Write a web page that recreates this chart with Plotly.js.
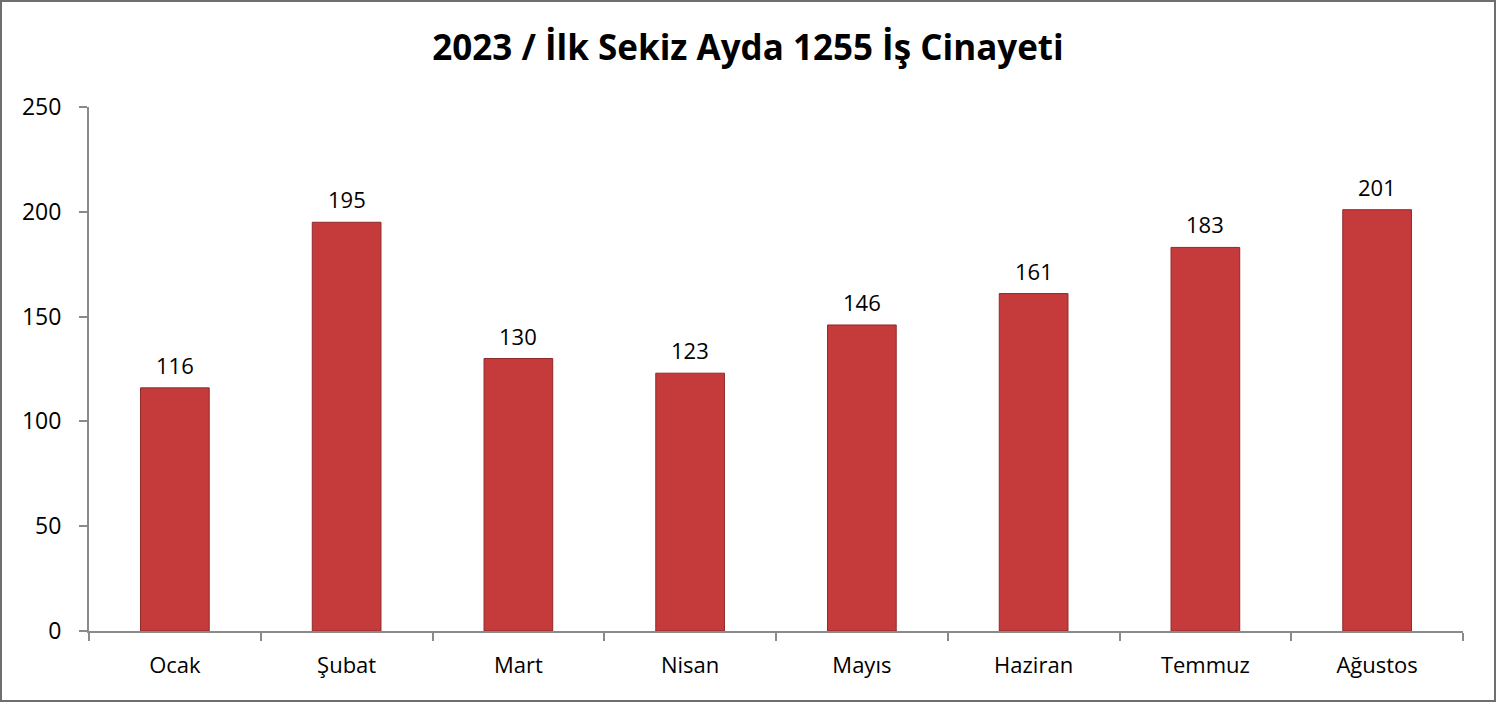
<!DOCTYPE html>
<html>
<head>
<meta charset="utf-8">
<script src="https://cdn.plot.ly/plotly-3.0.1.min.js"></script>
<style>
html,body{margin:0;padding:0;background:#fff;}
#wrap{position:relative;width:1496px;height:702px;}
#chart{width:1496px;height:702px;}
#frame{position:absolute;left:0;top:0;width:1496px;height:702px;box-sizing:border-box;border:2px solid #6e6e6e;pointer-events:none;}
</style>
</head>
<body>
<div id="wrap"><div id="chart"></div><div id="frame"></div></div>
<script>
const months = ["Ocak","Şubat","Mart","Nisan","Mayıs","Haziran","Temmuz","Ağustos"];
const deaths = [116,195,130,123,146,161,183,201];
const yTicks = [0,50,100,150,200,250];

const FONT = "Open Sans, sans-serif";

const trace = {
  type: "bar",
  x: months,
  y: deaths,
  marker: {color: "#c53b3b", line: {color: "#8f2a2a", width: 1}},
  hoverinfo: "x+y"
};

const labels = months.map((m, i) => ({
  x: m, y: deaths[i], xref: "x", yref: "y",
  text: String(deaths[i]), showarrow: false,
  yanchor: "bottom", yshift: 6,
  font: {family: FONT, size: 22, color: "#000"}
}));

const layout = {
  width: 1496, height: 702,
  margin: {l: 89, r: 33, t: 107, b: 71},
  paper_bgcolor: "#fff", plot_bgcolor: "#fff",
  bargap: 0.6,
  showlegend: false,
  annotations: labels,
  title: {text: "<b>2023 / İlk Sekiz Ayda 1255 İş Cinayeti</b>", x: 0.5, xanchor: "center", y: 0.932, yanchor: "middle",
          font: {family: FONT, size: 35, color: "#000"}},
  font: {family: FONT, size: 22, color: "#000"},
  xaxis: {
    showline: true, linecolor: "#8a8a8a", linewidth: 2,
    ticks: "outside", tickson: "boundaries", ticklen: 8, tickcolor: "#8a8a8a", tickwidth: 2,
    tickfont: {family: FONT, size: 22, color: "#000"},
    showgrid: false, zeroline: false, fixedrange: true, ticklabelstandoff: 14
  },
  yaxis: {
    range: [0, 250], tickvals: yTicks, ticktext: yTicks.map(String),
    showline: true, linecolor: "#8a8a8a", linewidth: 2,
    ticks: "outside", ticklen: 8, tickcolor: "#8a8a8a", tickwidth: 2,
    tickfont: {family: FONT, size: 23, color: "#000"},
    showgrid: false, zeroline: false, fixedrange: true, ticklabelstandoff: 13
  }
};

Plotly.newPlot("chart", [trace], layout, {displayModeBar: false, staticPlot: true});
</script>
</body>
</html>
